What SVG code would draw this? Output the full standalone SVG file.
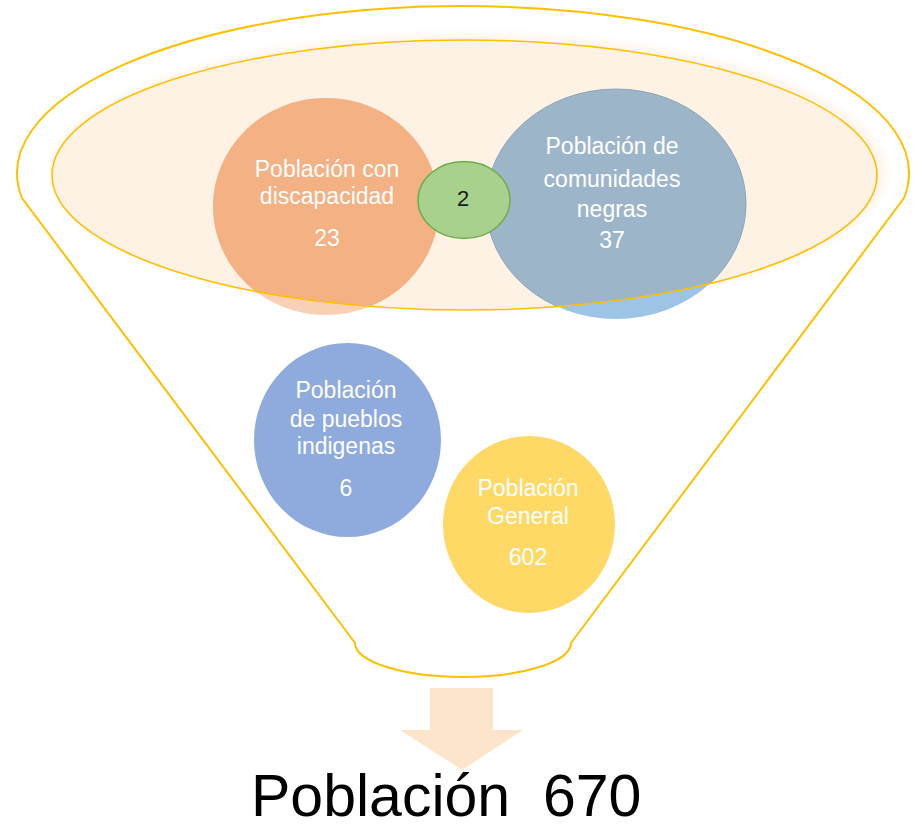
<svg xmlns="http://www.w3.org/2000/svg" width="923" height="829" viewBox="0 0 923 829">
<style>
.lbl{font-family:"Liberation Sans",Arial,sans-serif;font-size:23px;fill:#FFFFFF;text-anchor:middle}
.gold{fill:none;stroke:#FFC000}
</style>
<defs>
<clipPath id="inner"><ellipse cx="464.5" cy="175" rx="412.5" ry="135"/></clipPath>
<filter id="blur" x="-10%" y="-10%" width="120%" height="120%"><feGaussianBlur stdDeviation="3"/></filter>
</defs>
<rect width="923" height="829" fill="#FFFFFF"/>
<g id="funnel">
<path class="gold" stroke-width="2" fill="#FFFFFF" d="M22,198 A446,167 0 1 1 904,198 L571,643 A108,34 0 0 1 355,643 Z"/>
</g>
<g id="top-ellipse">
<ellipse cx="469" cy="172" rx="418" ry="139" fill="#FEF6EE" filter="url(#blur)"/>
<ellipse cx="464.5" cy="175" rx="412.5" ry="135" fill="#FEF2E4"/>
</g>
<g id="node-discapacidad">
<ellipse cx="326" cy="206.5" rx="113" ry="108.5" fill="#F8D0B5"/>
<ellipse cx="326" cy="206.5" rx="113" ry="108.5" fill="#F4B183" clip-path="url(#inner)"/>
<text class="lbl" x="327" y="177">Población con</text>
<text class="lbl" x="327" y="204">discapacidad</text>
<text class="lbl" x="327" y="246">23</text>
</g>
<g id="node-negras">
<ellipse cx="616" cy="204" rx="130" ry="115" fill="#9DC3E6"/>
<ellipse cx="616" cy="204" rx="130" ry="115" fill="#9DB5C9" stroke="#8FA5B8" stroke-width="1" clip-path="url(#inner)"/>
<text class="lbl" x="612" y="154">Población de</text>
<text class="lbl" x="612" y="187">comunidades</text>
<text class="lbl" x="612" y="217">negras</text>
<text class="lbl" x="612" y="248">37</text>
</g>
<g id="top-ellipse-outline">
<ellipse class="gold" cx="464.5" cy="175" rx="412.5" ry="135" stroke-width="1.6"/>
</g>
<g id="node-interseccion">
<ellipse cx="464" cy="200" rx="46" ry="38.5" fill="#A9D18E" stroke="#70AD47" stroke-width="1.5"/>
<text x="463" y="206" font-family="Liberation Sans, Arial, sans-serif" font-size="22" fill="#1A1A1A" text-anchor="middle">2</text>
</g>
<g id="node-indigenas">
<ellipse cx="347.5" cy="440" rx="93.5" ry="97" fill="#8FAADC"/>
<text class="lbl" x="346" y="398">Población</text>
<text class="lbl" x="346" y="427">de pueblos</text>
<text class="lbl" x="346" y="454">indigenas</text>
<text class="lbl" x="346" y="496">6</text>
</g>
<g id="node-general">
<ellipse cx="529" cy="524.5" rx="86" ry="88.5" fill="#FFD966"/>
<text class="lbl" x="528" y="496">Población</text>
<text class="lbl" x="528" y="524">General</text>
<text class="lbl" x="528" y="565">602</text>
</g>
<g id="connectors">
<path d="M430,688 L493,688 L493,730 L523,730 L462,770 L400,730 L430,730 Z" fill="#FDE5CC"/>
</g>
<g id="node-total">
<text x="251" y="816" font-family="Liberation Sans, Arial, sans-serif" font-size="59" fill="#000000" xml:space="preserve" style="white-space:pre">Población  670</text>
</g>
</svg>
